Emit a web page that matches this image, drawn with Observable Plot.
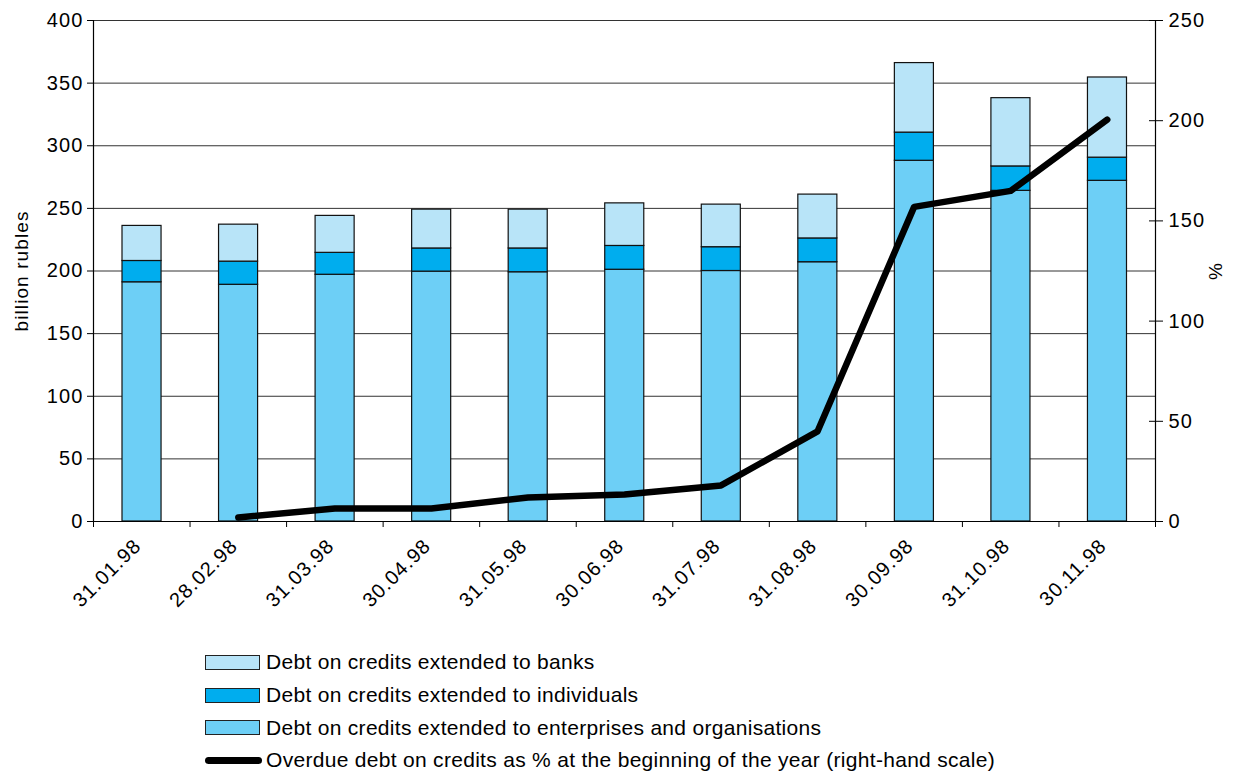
<!DOCTYPE html>
<html><head><meta charset="utf-8">
<script src="https://cdn.jsdelivr.net/npm/d3@7"></script>
<script src="https://cdn.jsdelivr.net/npm/@observablehq/plot@0.6"></script>
<style>
body{margin:0;background:#fff;font-family:"Liberation Sans",Arial,sans-serif;}
#chart{position:absolute;left:0;top:0;}
#chart svg{overflow:visible}
.legend{position:absolute;left:205px;top:646px;font-size:21px;letter-spacing:0.3px;color:#000}
.row{height:32.7px;display:flex;align-items:center;white-space:nowrap}
.sw{width:55px;height:15px;border:1px solid #222;margin-right:6px;box-sizing:border-box}
.ln{width:57px;height:7px;border-radius:4px;background:#000;margin-right:4px}
</style></head><body>
<div id="chart"></div>
<div class="legend" id="legend"></div>
<script>
const dates = ["31.01.98","28.02.98","31.03.98","30.04.98","31.05.98","30.06.98","31.07.98","31.08.98","30.09.98","31.10.98","30.11.98"];
const enterprises = [191, 189, 197, 199.5, 199, 201, 200, 207, 288, 264, 272];
const individuals = [17, 18.5, 17.5, 18.5, 19, 19, 19, 19, 22.5, 19.5, 18.5];
const banks = [28, 29.5, 29.5, 31, 31, 34, 34, 35, 55.5, 54.5, 64];
const overduePct = [null, 2, 6.5, 6.5, 12, 13.5, 18, 45, 157, 165, 200.5];
const leftTicks = [0,50,100,150,200,250,300,350,400];
const rightTicks = [0,50,100,150,200,250];
const seriesNames = ["Debt on credits extended to enterprises and organisations","Debt on credits extended to individuals","Debt on credits extended to banks"];
const seriesColors = ["#6dcff6","#00adee","#b8e4f8"];
const lineName = "Overdue debt on credits as % at the beginning of the year (right-hand scale)";
const leftTitle = "billion rubles";
const rightTitle = "%";

const k = 400/250; // right-hand scale to left-hand scale
const seriesValues = [enterprises, individuals, banks];
const rows = [];
dates.forEach((d,i)=>{
  let base = 0;
  seriesValues.forEach((vals,s)=>{
    rows.push({i, date:d, series:seriesNames[s], y1:base, y2:base+vals[i]});
    base += vals[i];
  });
});
const lineRows = dates.map((d,i)=>({i, date:d, pct:overduePct[i]})).filter(d=>d.pct!=null);

const chart = Plot.plot({
  width:1235, height:640,
  marginLeft:93, marginRight:80, marginTop:20, marginBottom:119,
  style:{fontFamily:'"Liberation Sans",Arial,sans-serif', fontSize:"20px", color:"#000", background:"#fff", letterSpacing:"1.1px"},
  x:{type:"linear", domain:[0,dates.length]},
  y:{domain:[0,400]},
  color:{domain:seriesNames, range:seriesColors},
  marks:[
    Plot.gridY(leftTicks,{stroke:"#333", strokeOpacity:1, strokeWidth:1}),
    Plot.rectY(rows,{x1:"i", x2:d=>d.i+1, y1:"y1", y2:"y2", fill:"series", stroke:"#111", strokeWidth:1.2, insetLeft:29, insetRight:28.5}),
    Plot.ruleX([0, dates.length],{stroke:"#000", strokeWidth:1.2}),
    Plot.ruleY([0],{stroke:"#000", strokeWidth:1.2}),
    Plot.line(lineRows,{x:d=>d.i+0.5, y:d=>d.pct*k, stroke:"#000", strokeWidth:6.5, strokeLinecap:"round", strokeLinejoin:"round"}),
    Plot.axisY({anchor:"left", ticks:leftTicks, tickSize:6, tickPadding:4, label:null}),
    Plot.axisY({anchor:"right", ticks:rightTicks.map(v=>v*k), tickFormat:v=>String(Math.round(v/k)), tickSize:7, tickPadding:6, label:null}),
    Plot.axisY({anchor:"right", ticks:rightTicks.map(v=>v*k), tickFormat:()=>"", tickSize:-7, label:null}),
    Plot.text([leftTitle],{frameAnchor:"left", dx:-72, rotate:-90, textAnchor:"middle", fontSize:19}),
    Plot.text([rightTitle],{frameAnchor:"right", dx:60, rotate:-90, textAnchor:"middle", fontSize:19}),
    Plot.axisX({ticks:dates.map((d,i)=>i+0.5), tickFormat:v=>dates[Math.floor(v)], tickSize:0, tickRotate:-45, tickPadding:21, dx:-4, label:null}),
    Plot.axisX({ticks:d3.range(dates.length+1), tickFormat:()=>"", tickSize:6, label:null})
  ]
});
document.getElementById("chart").appendChild(chart);

const legend = document.getElementById("legend");
[2,1,0].forEach(s=>{
  const r = document.createElement("div"); r.className="row";
  r.innerHTML = `<span class="sw" style="background:${seriesColors[s]}"></span><span>${seriesNames[s]}</span>`;
  legend.appendChild(r);
});
const r = document.createElement("div"); r.className="row";
r.innerHTML = `<span class="ln"></span><span>${lineName}</span>`;
legend.appendChild(r);
</script>
</body></html>
